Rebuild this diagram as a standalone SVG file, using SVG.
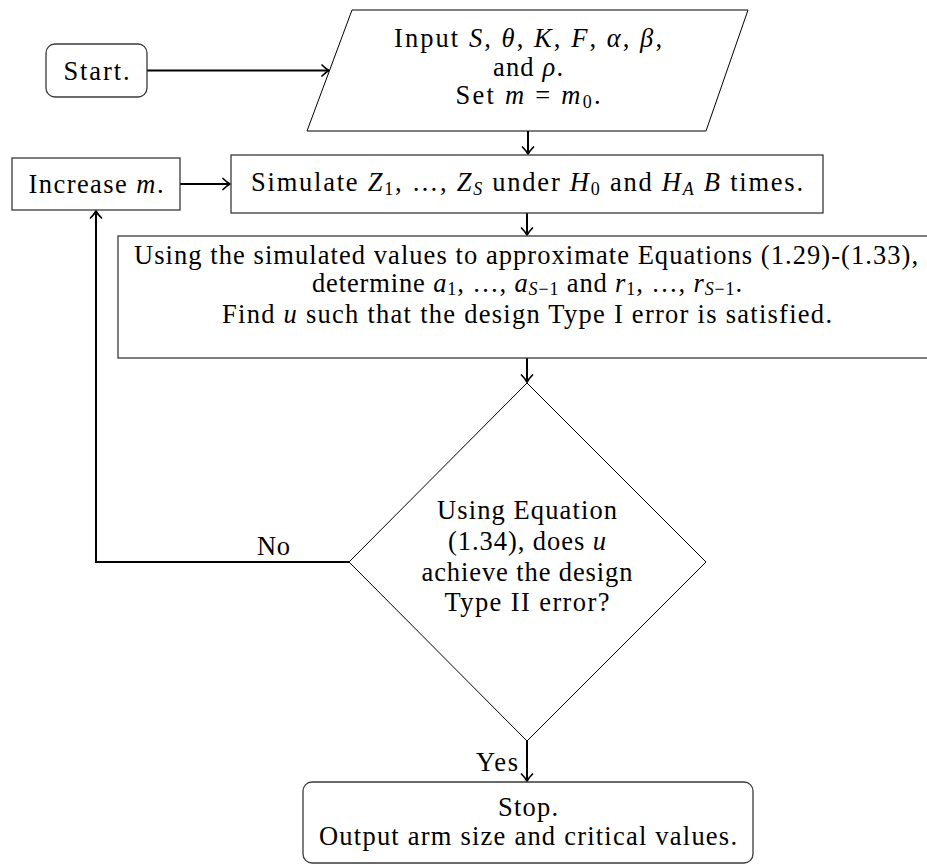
<svg xmlns="http://www.w3.org/2000/svg" width="927" height="867" viewBox="0 0 927 867">
<defs>
<style>
.t{font-family:"Liberation Serif","Times New Roman",serif;font-size:26.5px;fill:#000;}
.i{font-style:italic;}
.s{font-size:18px;}
.box{fill:#fff;stroke:#3a3a3a;stroke-width:1.3;}
.thin{fill:#fff;stroke:#000;stroke-width:1;}
.con{fill:none;stroke:#000;stroke-width:2;}
</style>
<marker id="arr" markerUnits="userSpaceOnUse" viewBox="-9 -7 11 14" refX="0" refY="0" markerWidth="11" markerHeight="14" orient="auto">
<path d="M -7 -5.5 Q -2.8 -1.4 0 0 Q -2.8 1.4 -7 5.5" fill="none" stroke="#000" stroke-width="1.7" stroke-linecap="round"/>
</marker>
</defs>
<rect width="927" height="867" fill="#fff"/>

<g id="connectors">
<path class="con" d="M147 70.5 H329" marker-end="url(#arr)"/>
<path class="con" d="M528 131 V154" marker-end="url(#arr)"/>
<path class="con" d="M180 184 H230" marker-end="url(#arr)"/>
<path class="con" d="M527 213 V235" marker-end="url(#arr)"/>
<path class="con" d="M527 358 V382" marker-end="url(#arr)"/>
<path class="con" d="M349 562 H96 V211" marker-end="url(#arr)"/>
<path class="con" d="M527 741 V781" marker-end="url(#arr)"/>
<text class="t" x="257" y="555" textLength="33">No</text>
<text class="t" x="518" y="771" text-anchor="end" textLength="42">Yes</text>
</g>

<g id="start">
<rect class="box" x="46" y="44" width="101" height="53" rx="9"/>
<text class="t" x="96.5" y="79.5" text-anchor="middle" textLength="66">Start.</text>
</g>

<g id="input">
<polygon class="thin" points="352,10 748,10 706,131 307,131" stroke-width="1.2"/>
<text class="t" x="528" y="47" text-anchor="middle" textLength="268">Input <tspan class="i">S</tspan>, <tspan class="i">θ</tspan>, <tspan class="i">K</tspan>, <tspan class="i">F</tspan>, <tspan class="i">α</tspan>, <tspan class="i">β</tspan>,</text>
<text class="t" x="528" y="76" text-anchor="middle" textLength="70">and <tspan class="i">ρ</tspan>.</text>
<text class="t" x="528" y="104" text-anchor="middle" textLength="145">Set <tspan class="i">m</tspan> = <tspan class="i">m</tspan><tspan class="s" dy="4">0</tspan><tspan dy="-4">.</tspan></text>
</g>

<g id="increase">
<rect class="box" x="12" y="158" width="168" height="52"/>
<text class="t" x="96" y="193" text-anchor="middle" textLength="135">Increase <tspan class="i">m</tspan>.</text>
</g>

<g id="simulate">
<rect class="box" x="231" y="155" width="592" height="58"/>
<text class="t" x="527" y="191" text-anchor="middle" textLength="552">Simulate <tspan class="i">Z</tspan><tspan class="s" dy="4">1</tspan><tspan dy="-4">, …, </tspan><tspan class="i">Z</tspan><tspan class="s i" dy="4">S</tspan><tspan dy="-4"> under </tspan><tspan class="i">H</tspan><tspan class="s" dy="4">0</tspan><tspan dy="-4"> and </tspan><tspan class="i">H</tspan><tspan class="s i" dy="4">A</tspan><tspan dy="-4"> </tspan><tspan class="i">B</tspan> times.</text>
</g>

<g id="determine">
<rect class="box" x="118" y="236" width="818" height="122"/>
<text class="t" x="526" y="264" text-anchor="middle" textLength="784">Using the simulated values to approximate Equations (1.29)-(1.33),</text>
<text class="t" x="527" y="292" text-anchor="middle" textLength="430">determine <tspan class="i">a</tspan><tspan class="s" dy="3">1</tspan><tspan dy="-3">, …, </tspan><tspan class="i">a</tspan><tspan class="s i" dy="3">S</tspan><tspan class="s">−1</tspan><tspan dy="-3"> and </tspan><tspan class="i">r</tspan><tspan class="s" dy="3">1</tspan><tspan dy="-3">, …, </tspan><tspan class="i">r</tspan><tspan class="s i" dy="3">S</tspan><tspan class="s">−1</tspan><tspan dy="-3">.</tspan></text>
<text class="t" x="527" y="323" text-anchor="middle" textLength="610">Find <tspan class="i">u</tspan> such that the design Type I error is satisfied.</text>
</g>

<g id="decision">
<polygon class="thin" points="527,383 706,562 527,741 349,562"/>
<text class="t" x="527" y="519" text-anchor="middle" textLength="180">Using Equation</text>
<text class="t" x="527" y="550" text-anchor="middle" textLength="158">(1.34), does <tspan class="i">u</tspan></text>
<text class="t" x="527" y="581" text-anchor="middle" textLength="211">achieve the design</text>
<text class="t" x="527" y="611" text-anchor="middle" textLength="165">Type II error?</text>
</g>

<g id="stop">
<rect class="box" x="303" y="782" width="450" height="81" rx="9"/>
<text class="t" x="528" y="816" text-anchor="middle" textLength="60">Stop.</text>
<text class="t" x="528" y="845" text-anchor="middle" textLength="418">Output arm size and critical values.</text>
</g>
</svg>
